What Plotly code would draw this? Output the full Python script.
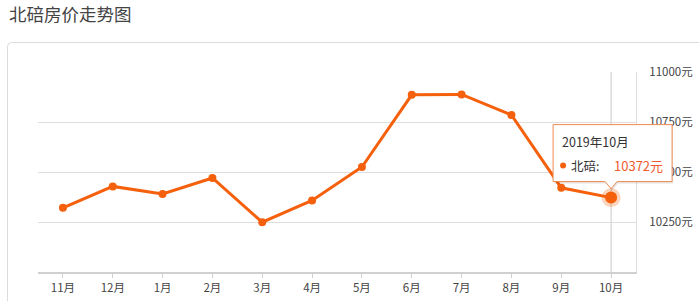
import plotly.graph_objects as go

# ---- data ----
months = ["11月", "12月", "1月", "2月", "3月", "4月", "5月", "6月", "7月", "8月", "9月", "10月"]
prices = [10321, 10428, 10390, 10470, 10249, 10358, 10525, 10886, 10888, 10785, 10421, 10372]
y_ticks = [10250, 10500, 10750, 11000]
series_name = "北碚"
hover_label = "2019年10月"
title_text = "北碚房价走势图"

# ---- layout geometry ----
W, H = 699, 301
L, R, T, B = 38, 63, 72, 29
PW, PH = W - L - R, H - T - B
Y_MIN, Y_MAX = 10000, 11000
FONT = "Noto Sans CJK SC"
ORANGE = "#f5600c"

def px_x(px):
    return (px - L) / PW

def px_y(py):
    return (H - B - py) / PH

def idx_to_px(i):
    return L + (i + 0.5) / len(months) * PW

def val_to_py(v):
    return (H - B) - (v - Y_MIN) / (Y_MAX - Y_MIN) * PH

fig = go.Figure()

fig.add_trace(go.Scatter(
    x=months, y=prices, mode="lines+markers",
    line=dict(color=ORANGE, width=3),
    marker=dict(color=ORANGE, size=8),
    hoverinfo="skip", showlegend=False,
))
# highlighted last point (halo + dot)
fig.add_trace(go.Scatter(
    x=[months[-1]], y=[prices[-1]], mode="markers",
    marker=dict(color="rgba(245,96,12,0.28)", size=19),
    hoverinfo="skip", showlegend=False,
))
fig.add_trace(go.Scatter(
    x=[months[-1]], y=[prices[-1]], mode="markers",
    marker=dict(color=ORANGE, size=12),
    hoverinfo="skip", showlegend=False,
))

shapes = []
annotations = []

# card border (rounded)
cx0, cy0, r = 7.5, 42.5, 4
cx1, cy1 = W + 20, H + 20
card_path = (f"M {px_x(cx0)} {px_y(cy1)} L {px_x(cx0)} {px_y(cy0 + r)} "
             f"Q {px_x(cx0)} {px_y(cy0)} {px_x(cx0 + r)} {px_y(cy0)} "
             f"L {px_x(cx1)} {px_y(cy0)}")
shapes.append(dict(type="path", xref="paper", yref="paper", path=card_path,
                   line=dict(color="#dcdcdc", width=1), layer="below"))

# crosshair at hovered point
hx = idx_to_px(len(months) - 1)
hy = val_to_py(prices[-1])
shapes.append(dict(type="line", xref="paper", yref="paper",
                   x0=px_x(hx), x1=px_x(hx), y0=0, y1=1,
                   line=dict(color="#c8c8c8", width=1), layer="below"))

# tooltip callout
bx0, bx1 = hx - 58, hx + 61
by0, by1 = hy - 73, hy - 16
tip = hy - 9
aw = 6
def callout(dx, dy):
    return (f"M {px_x(bx0+dx)} {px_y(by0+dy)} L {px_x(bx1+dx)} {px_y(by0+dy)} "
            f"L {px_x(bx1+dx)} {px_y(by1+dy)} L {px_x(hx+aw+dx)} {px_y(by1+dy)} "
            f"L {px_x(hx+dx)} {px_y(tip+dy)} L {px_x(hx-aw+dx)} {px_y(by1+dy)} "
            f"L {px_x(bx0+dx)} {px_y(by1+dy)} Z")
shapes.append(dict(type="path", xref="paper", yref="paper", path=callout(1, 2),
                   fillcolor="rgba(0,0,0,0.10)", line=dict(width=0)))
shapes.append(dict(type="path", xref="paper", yref="paper", path=callout(0, 0),
                   fillcolor="white", line=dict(color="#f08a50", width=1)))
# legend dot in tooltip
dcx, dcy, dr = bx0 + 10, by0 + 41, 3
shapes.append(dict(type="circle", xref="paper", yref="paper",
                   x0=px_x(dcx - dr), x1=px_x(dcx + dr), y0=px_y(dcy + dr), y1=px_y(dcy - dr),
                   fillcolor=ORANGE, line=dict(width=0)))

annotations.append(dict(xref="paper", yref="paper", x=px_x(bx0 + 7), y=px_y(by0 + 17),
                        text=hover_label, showarrow=False, xanchor="left", yanchor="middle",
                        font=dict(family=FONT, size=12.5, color="#333")))
annotations.append(dict(xref="paper", yref="paper", x=px_x(bx0 + 16), y=px_y(by0 + 41),
                        text=f"{series_name}:",
                        showarrow=False, xanchor="left", yanchor="middle",
                        font=dict(family=FONT, size=12.5, color="#333")))
annotations.append(dict(xref="paper", yref="paper", x=px_x(bx0 + 59), y=px_y(by0 + 41),
                        text=f"{prices[-1]}元", showarrow=False, xanchor="left", yanchor="middle",
                        font=dict(family=FONT, size=13, color="#f05a30")))

# title
annotations.append(dict(xref="paper", yref="paper", x=px_x(7), y=px_y(14),
                        text=title_text, showarrow=False, xanchor="left", yanchor="middle",
                        font=dict(family=FONT, size=17.5, color="#444")))

fig.update_layout(
    width=W, height=H,
    margin=dict(l=L, r=R, t=T, b=B, pad=0, autoexpand=False),
    paper_bgcolor="white", plot_bgcolor="white",
    shapes=shapes, annotations=annotations,
    font=dict(family=FONT, size=12, color="#444"),
    xaxis=dict(
        type="category", range=[-0.5, len(months) - 0.5],
        showgrid=False, showline=True, linecolor="#d0d0d0", linewidth=2,
        ticks="outside", ticklen=4, tickcolor="#d0d0d0",
        tickfont=dict(family=FONT, size=11.5, color="#444"),
        zeroline=False, fixedrange=True, automargin=False,
    ),
    yaxis=dict(
        side="right", range=[Y_MIN, Y_MAX],
        tickvals=y_ticks, ticktext=[f"{v}元" for v in y_ticks],
        showgrid=True, gridcolor="#dedede", gridwidth=1,
        showline=True, linecolor="#dedede", linewidth=1,
        ticks="", ticklabelstandoff=10,
        tickfont=dict(family=FONT, size=11.5, color="#444"),
        zeroline=False, fixedrange=True, automargin=False,
    ),
)

fig.write_html("out.html")
